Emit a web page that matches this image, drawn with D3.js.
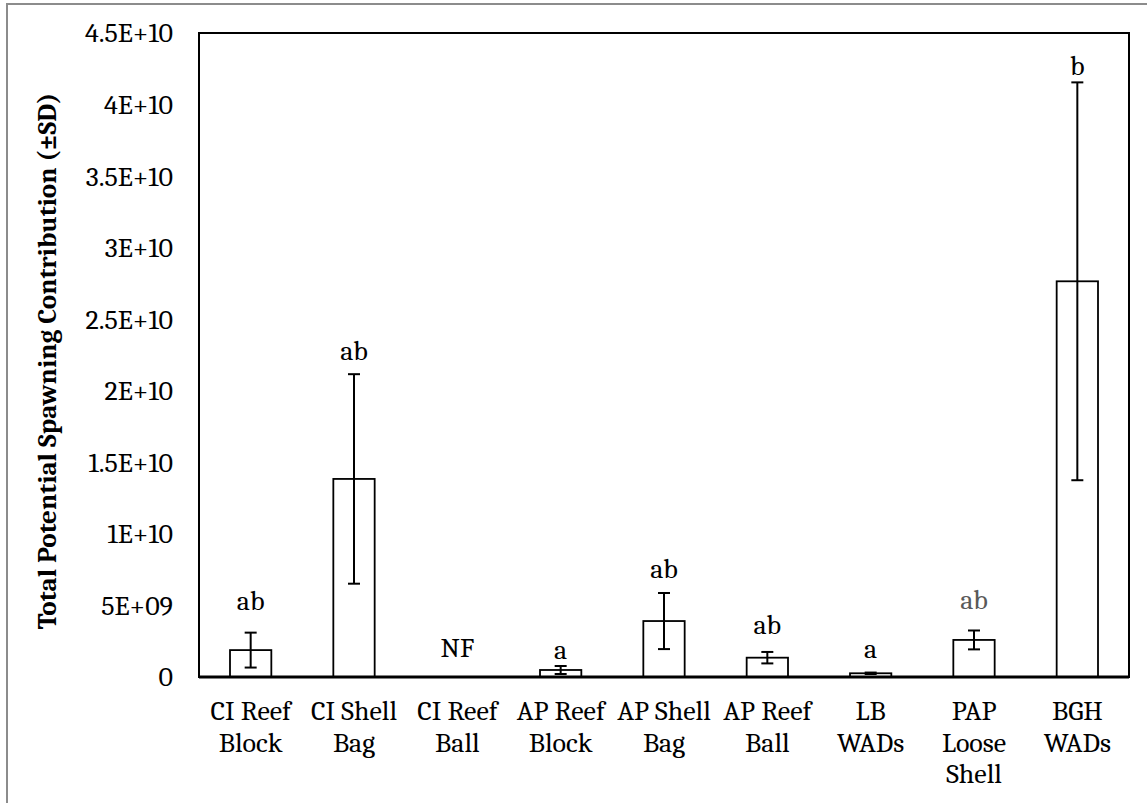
<!DOCTYPE html>
<html>
<head>
  <meta charset="utf-8">
  <title>Total Potential Spawning Contribution</title>
  <script src="https://d3js.org/d3.v7.min.js"></script>
  <style>
    body { margin: 0; background: #fff; }
    text { font-family: Cambria, "Liberation Serif", serif; fill: #000; }
  </style>
</head>
<body>
  <script>
    // values
    let categories = ["CI Reef\nBlock", "CI Shell\nBag", "CI Reef\nBall", "AP Reef\nBlock", "AP Shell\nBag",
                      "AP Reef\nBall", "LB\nWADs", "PAP\nLoose\nShell", "BGH\nWADs"];
    let means = [1.88e9, 13.84e9, 0, 0.49e9, 3.91e9, 1.35e9, 0.26e9, 2.59e9, 27.65e9];
    let sds = [1.22e9, 7.32e9, 0, 0.28e9, 1.96e9, 0.40e9, 0.05e9, 0.66e9, 13.9e9];
    let letters = ["ab", "ab", "NF", "a", "ab", "ab", "a", "ab", "b"];
    let letterValues = [4.68e9, 22.15e9, 1.4e9, 1.26e9, 6.92e9, 3.0e9, 1.33e9, 4.75e9, 42.07e9];
    let yTicks = [0, 5e9, 1e10, 1.5e10, 2e10, 2.5e10, 3e10, 3.5e10, 4e10, 4.5e10];

    let margin = {top: 33, right: 18, bottom: 126, left: 199},
        W = 1147, H = 803,
        width = W - margin.left - margin.right,
        height = H - margin.top - margin.bottom,
        fs = 28;

    let svg = d3.select("body").append("svg")
                .attr("width", W)
                .attr("height", H);

    // outer chart frame (runs off the picture at right and bottom)
    svg.append("rect")
       .attr("x", 7).attr("y", 4)
       .attr("width", W).attr("height", H)
       .attr("fill", "none")
       .attr("stroke", "#8c8c8c")
       .attr("stroke-width", 2);

    let g = svg.append("g")
               .attr("transform", "translate(" + margin.left + "," + margin.top + ")");

    let x = d3.scaleBand()
              .domain(categories)
              .range([0, width])
              .paddingInner(0.6)
              .paddingOuter(0.3);

    let y = d3.scaleLinear()
              .domain([0, 4.5e10])
              .range([height, 0]);

    // Excel style labels: 5E+09, 1.5E+10 ...
    function sci(v) {
      if (v === 0) return "0";
      let e = Math.floor(Math.log10(v));
      let m = +(v / Math.pow(10, e)).toFixed(2);
      return m + "E+" + (e < 10 ? "0" + e : e);
    }

    let yAxis = g.append("g")
                 .call(d3.axisLeft(y).tickValues(yTicks).tickFormat(sci).tickSize(0).tickPadding(26));
    yAxis.select(".domain").remove();
    yAxis.selectAll("text").attr("font-size", fs).attr("font-family", null);

    let xAxis = g.append("g")
                 .attr("transform", "translate(0," + height + ")")
                 .call(d3.axisBottom(x).tickSize(0).tickFormat(""));
    xAxis.select(".domain").remove();
    xAxis.selectAll(".tick").each(function(d) {
      let lines = d.split("\n");
      let t = d3.select(this).append("text")
                .attr("text-anchor", "middle")
                .attr("font-size", fs)
                .attr("y", 43);
      lines.forEach(function(l, i) {
        t.append("tspan").attr("x", 0).attr("dy", i === 0 ? 0 : 31.5).text(l);
      });
    });

    // bars
    g.selectAll("rect.bar")
     .data(means.map(function(m, i) { return {c: categories[i], m: m}; }).filter(function(d) { return d.m > 0; }))
     .enter().append("rect")
     .attr("class", "bar")
     .attr("x", function(d) { return x(d.c); })
     .attr("y", function(d) { return y(d.m); })
     .attr("width", x.bandwidth())
     .attr("height", function(d) { return height - y(d.m); })
     .attr("fill", "#fff")
     .attr("stroke", "#000")
     .attr("stroke-width", 1.8);

    // error bars
    let errs = means.map(function(m, i) { return {c: categories[i], lo: m - sds[i], hi: m + sds[i]}; })
                    .filter(function(d, i) { return sds[i] > 0; });
    let cap = 6;
    let eg = g.selectAll("g.err").data(errs).enter().append("g")
              .attr("class", "err")
              .attr("transform", function(d) { return "translate(" + (x(d.c) + x.bandwidth() / 2) + ",0)"; })
              .attr("stroke", "#000")
              .attr("stroke-width", 2);
    eg.append("line").attr("x1", 0).attr("x2", 0)
      .attr("y1", function(d) { return y(d.lo); }).attr("y2", function(d) { return y(d.hi); });
    eg.append("line").attr("x1", -cap).attr("x2", cap)
      .attr("y1", function(d) { return y(d.hi); }).attr("y2", function(d) { return y(d.hi); });
    eg.append("line").attr("x1", -cap).attr("x2", cap)
      .attr("y1", function(d) { return y(d.lo); }).attr("y2", function(d) { return y(d.lo); });

    // significance letters
    g.selectAll("text.letter")
     .data(letters)
     .enter().append("text")
     .attr("class", "letter")
     .attr("x", function(d, i) { return x(categories[i]) + x.bandwidth() / 2; })
     .attr("y", function(d, i) { return y(letterValues[i]); })
     .attr("text-anchor", "middle")
     .attr("font-size", fs)
     .style("fill", function(d, i) { return i === 7 ? "#595959" : "#000"; })
     .text(function(d) { return d; });

    // plot frame
    g.append("rect")
     .attr("width", width).attr("height", height)
     .attr("fill", "none")
     .attr("stroke", "#000")
     .attr("stroke-width", 2);
    g.append("line")
     .attr("x1", 0).attr("x2", width)
     .attr("y1", height).attr("y2", height)
     .attr("stroke", "#000").attr("stroke-width", 3);

    // y axis title
    svg.append("text")
       .attr("transform", "translate(56," + (margin.top + height / 2 + 6) + ") rotate(-90)")
       .attr("text-anchor", "middle")
       .attr("font-size", 27)
       .attr("font-weight", "bold")
       .text("Total Potential Spawning Contribution (±SD)");
  </script>
</body>
</html>
